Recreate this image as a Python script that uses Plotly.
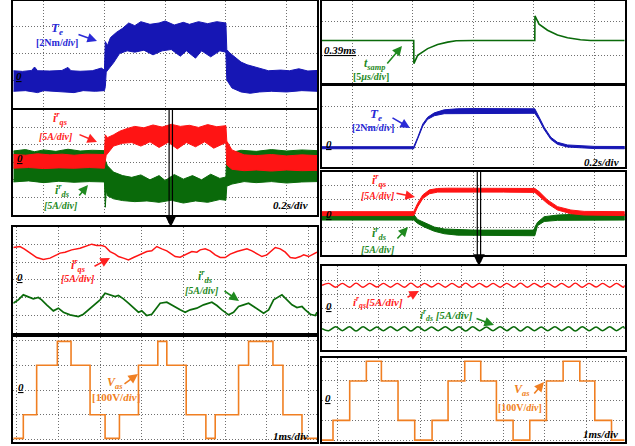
import plotly.graph_objects as go

W, H = 635, 446
FONT = "Liberation Serif"

BLUE = "#1616b4"
RED = "#ff1414"
GREEN = "#0a6a0a"
ORANGE = "#f07f22"
LBLUE = "#2a2ad6"
LRED = "#ff2222"
LGREEN = "#1f8a1f"

# ---------------- data ----------------
# L1: electromagnetic torque (Nm), 0.2 s/div, noisy envelope
te1_t_up = [0, 0.03, 0.06, 0.07, 0.08, 0.12, 0.16, 0.18, 0.19, 0.22, 0.26, 0.29, 0.30, 0.303, 0.31,
            0.32, 0.34, 0.36, 0.38, 0.40, 0.42, 0.45, 0.48, 0.50, 0.53, 0.56, 0.58, 0.61, 0.64, 0.67,
            0.70, 0.703, 0.71, 0.73, 0.75, 0.77, 0.80, 0.84, 0.88, 0.91, 0.94, 0.97, 1.0]
te1_up = [0.7, 0.65, 0.72, 0.98, 0.7, 0.68, 0.72, 0.95, 0.7, 0.66, 0.7, 0.9, 0.75, 2.9, 2.6,
          3.2, 3.6, 3.9, 4.3, 4.1, 4.4, 4.2, 4.3, 4.45, 4.15, 4.35, 4.2, 4.4, 4.25, 4.4,
          4.3, 2.3, 2.1, 1.7, 1.35, 1.15, 0.95, 0.7, 0.75, 0.7, 0.85, 0.68, 0.72]
te1_t_lo = [0, 0.04, 0.08, 0.1, 0.14, 0.2, 0.23, 0.27, 0.30, 0.303, 0.306, 0.33, 0.35, 0.375, 0.40,
            0.43, 0.46, 0.49, 0.52, 0.55, 0.57, 0.60, 0.62, 0.65, 0.68, 0.70, 0.703, 0.72, 0.75, 0.78,
            0.81, 0.85, 0.9, 0.95, 1.0]
te1_lo = [-0.85, -0.8, -0.95, -0.8, -0.85, -0.95, -0.8, -0.85, -0.8, -0.5, 0.6, 1.3, 2.0, 2.2, 2.1,
          2.25, 1.9, 2.2, 2.3, 1.8, 2.2, 1.65, 2.2, 1.75, 2.2, 2.1, 0.0, -0.6, -0.9, -1.0,
          -0.9, -0.85, -0.9, -0.8, -0.85]

# L2: rotor-frame currents (A), 0.2 s/div
iqs2_t_up = [0, 0.04, 0.08, 0.12, 0.16, 0.2, 0.24, 0.28, 0.30, 0.303, 0.31, 0.33, 0.35, 0.375, 0.40,
             0.43, 0.46, 0.49, 0.52, 0.55, 0.58, 0.61, 0.64, 0.67, 0.70, 0.703, 0.72, 0.76, 0.8, 0.85,
             0.9, 0.95, 1.0]
iqs2_up = [2.2, 2.0, 2.4, 2.1, 2.3, 2.0, 2.3, 2.1, 2.2, 7.8, 7.0, 7.8, 8.8, 9.6, 10.2,
           9.8, 10.6, 10.0, 10.8, 10.2, 10.5, 9.9, 10.7, 10.1, 10.4, 6.0, 3.5, 2.1, 1.9, 2.2,
           1.8, 2.1, 1.9]
iqs2_t_lo = [0, 0.05, 0.1, 0.15, 0.2, 0.25, 0.30, 0.303, 0.306, 0.33, 0.36, 0.39, 0.42, 0.45, 0.48,
             0.51, 0.54, 0.57, 0.60, 0.63, 0.66, 0.70, 0.703, 0.72, 0.76, 0.8, 0.85, 0.9, 0.95, 1.0]
iqs2_lo = [-1.7, -1.5, -1.8, -1.6, -1.7, -1.5, -1.7, 0.5, 2.0, 4.6, 5.4, 5.6, 4.6, 5.8, 4.2,
           5.7, 3.8, 5.6, 4.4, 5.8, 4.0, 5.6, -0.8, -2.0, -2.4, -2.2, -2.5, -2.2, -2.4, -2.3]
ids2_t_up = [0, 0.04, 0.07, 0.1, 0.14, 0.18, 0.22, 0.26, 0.3, 0.303, 0.31, 0.33, 0.36, 0.39, 0.42,
             0.45, 0.48, 0.5, 0.53, 0.56, 0.59, 0.62, 0.65, 0.68, 0.70, 0.703, 0.72, 0.75, 0.8, 0.85,
             0.9, 0.95, 1.0]
ids2_up = [3.2, 3.6, 3.0, 3.5, 3.1, 3.7, 3.2, 3.4, 3.3, 0.6, -1.0, -2.8, -3.8, -4.3, -3.6,
           -5.0, -3.8, -5.2, -3.5, -4.8, -3.8, -5.0, -3.4, -4.6, -4.2, 1.5, 2.8, 3.4, 3.1, 3.6,
           3.2, 3.5, 3.3]
ids2_t_lo = [0, 0.05, 0.1, 0.15, 0.2, 0.25, 0.3, 0.303, 0.306, 0.31, 0.33, 0.36, 0.4, 0.44, 0.48,
             0.52, 0.56, 0.6, 0.64, 0.68, 0.70, 0.703, 0.72, 0.76, 0.8, 0.85, 0.9, 0.95, 1.0]
ids2_lo = [-5.6, -5.3, -5.8, -5.4, -5.7, -5.5, -5.6, -12.8, -8.0, -9.5, -10.4, -10.9, -11.2, -11.0, -11.4,
           -10.8, -11.6, -11.0, -11.4, -10.6, -10.8, -6.8, -6.2, -5.5, -5.8, -5.5, -5.9, -5.6, -5.5]

# L3: zoomed currents (A), 1 ms/div
l3_t_q = [0, 0.16, 0.26, 0.4, 0.56, 0.72, 0.88, 1.04, 1.12, 1.24, 1.4, 1.6, 1.8, 1.88, 2.0,
          2.12, 2.2, 2.32, 2.44, 2.52, 2.64, 2.76, 2.88, 3.04, 3.2, 3.32, 3.44, 3.56, 3.68, 3.76,
          3.88, 4.0, 4.12, 4.28, 4.4, 4.48, 4.6, 4.72, 4.84, 4.96, 5.08, 5.2, 5.36, 5.48, 5.6,
          5.72, 5.84, 5.96, 6.08, 6.2, 6.28, 6.4, 6.52, 6.64, 6.76, 6.88, 6.96, 7.08, 7.2, 7.28]
l3_iqs = [9.18, 9.46, 8.81, 7.59, 6.34, 5.77, 6.17, 7.10, 7.59, 7.87, 8.52, 9.0, 9.75, 10.14, 9.75,
          9.75, 9.46, 8.04, 7.30, 6.62, 6.17, 5.68, 6.34, 7.30, 8.04, 8.24, 9.46, 8.81, 8.24, 7.59,
          6.62, 6.44, 7.10, 8.04, 7.87, 8.52, 8.81, 8.24, 7.10, 6.34, 6.34, 7.30, 8.04, 8.52, 8.81,
          8.24, 7.30, 6.62, 7.10, 8.52, 9.18, 8.81, 7.87, 6.34, 6.17, 6.62, 7.10, 6.62, 7.30, 7.87]
l3_t_d = [0, 0.12, 0.24, 0.36, 0.48, 0.6, 0.68, 0.8, 0.96, 1.08, 1.2, 1.36, 1.56, 1.68, 1.8,
          1.92, 2.08, 2.2, 2.32, 2.44, 2.52, 2.64, 2.76, 2.88, 3.0, 3.08, 3.2, 3.32, 3.44, 3.52,
          3.68, 3.76, 3.84, 4.0, 4.12, 4.24, 4.4, 4.56, 4.76, 4.88, 5.0, 5.16, 5.28, 5.4, 5.52,
          5.64, 5.76, 5.88, 6.0, 6.12, 6.24, 6.44, 6.56, 6.68, 6.8, 6.92, 7.0, 7.12, 7.24, 7.28]
l3_ids = [-6.63, -5.68, -4.26, -4.73, -5.40, -5.02, -5.68, -7.10, -8.81, -8.05, -9.19, -9.94, -10.42, -9.76, -8.52,
          -7.10, -5.68, -3.79, -4.26, -4.73, -4.45, -5.40, -6.63, -8.05, -9.19, -8.81, -10.14, -9.76, -8.05, -6.63,
          -6.35, -6.91, -7.58, -8.52, -9.19, -8.52, -8.05, -7.10, -6.35, -7.29, -8.52, -9.94, -9.19, -7.58, -7.10,
          -6.63, -7.58, -8.52, -9.47, -8.52, -5.68, -4.26, -5.68, -7.10, -7.86, -7.58, -8.52, -9.76, -10.14, -9.19]

# L4: phase voltage (V), 1 ms/div, step changes
l4_t = [0, 0.24, 0.56, 1.056, 1.384, 1.84, 2.2, 2.544, 3.0, 3.464,
        3.68, 4.144, 4.616, 4.84, 5.4, 5.64, 6.224, 6.464, 6.92, 7.28]
l4_v = [-196, -100, 100, 197, 100, -100, -196, -100, 100, 197,
        100, -100, -196, -100, 100, 197, 100, -100, -196, -196]

# R1: sampling period (us)
r1_t = [0, 0.303, 0.3035, 0.316, 0.349, 0.382, 0.415, 0.443, 0.5, 0.703, 0.7035, 0.717,
        0.745, 0.778, 0.811, 0.854, 0.887, 1.0]
r1_v = [390, 390, 386.6, 387.8, 388.8, 389.4, 389.75, 389.95, 390, 390, 393.6, 392.4,
        391.5, 390.8, 390.4, 390.1, 390, 390]

# R2: torque (Nm)
te2_t = [0, 0.303, 0.316, 0.333, 0.349, 0.371, 0.404, 0.448, 0.5, 0.6, 0.703, 0.717, 0.734,
         0.756, 0.778, 0.811, 0.854, 0.9, 1.0]
te2_up = [0.1, 0.1, 1.0, 2.32, 2.97, 3.4, 3.7, 3.8, 3.82, 3.82, 3.8, 3.0, 2.0,
          1.02, 0.53, 0.27, 0.17, 0.13, 0.12]
te2_lo = [-0.1, -0.1, 0.84, 2.12, 2.77, 3.12, 3.32, 3.36, 3.36, 3.36, 3.36, 2.74, 1.78,
          0.82, 0.33, 0.07, -0.03, -0.08, -0.1]

# R3: currents (A)
iqs3_t = [0, 0.303, 0.316, 0.333, 0.355, 0.382, 0.415, 0.5, 0.6, 0.703, 0.717, 0.745, 0.778,
          0.822, 0.866, 0.93, 1.0]
iqs3_up = [0.6, 0.6, 3.6, 6.6, 8.4, 8.9, 9.0, 9.0, 9.0, 8.9, 7.8, 4.8, 2.4, 1.2, 0.7, 0.6, 0.6]
iqs3_lo = [-0.8, -0.8, 2.3, 5.3, 7.0, 7.6, 7.6, 7.6, 7.6, 7.5, 6.4, 3.5, 1.2, -0.1, -0.6, -0.8, -0.8]
ids3_t = [0, 0.303, 0.316, 0.338, 0.371, 0.404, 0.448, 0.5, 0.6, 0.7, 0.703, 0.712, 0.734,
          0.778, 0.822, 0.9, 1.0]
ids3_up = [-0.4, -0.4, -2.2, -3.4, -4.9, -5.6, -5.9, -6.0, -6.0, -6.0, -5.0, -3.2, -1.2,
           -0.6, -0.4, -0.4, -0.4]
ids3_lo = [-2.4, -2.4, -3.6, -4.9, -6.4, -7.3, -7.8, -8.0, -8.0, -8.0, -8.0, -4.4, -2.9,
           -2.5, -2.4, -2.4, -2.4]

# R4: zoomed currents (A), 1 ms/div
r4_t = [0.0, 0.16, 0.33, 0.49, 0.66, 0.82, 0.99, 1.15, 1.32, 1.48, 1.65, 1.81, 1.98, 2.14, 2.31,
        2.47, 2.64, 2.8, 2.97, 3.13, 3.3, 3.46, 3.63, 3.79, 3.96, 4.12, 4.29, 4.45, 4.62, 4.78,
        4.95, 5.11, 5.28, 5.44, 5.61, 5.77, 5.94, 6.1, 6.27, 6.43, 6.6, 6.76, 6.93, 7.09, 7.26, 7.29]
r4_iqs = [8.1, 8.8, 7.4, 8.8, 7.4, 8.9, 7.4, 8.8, 7.5, 8.8, 7.4, 8.8, 7.4, 8.9, 7.4,
          8.8, 7.5, 8.8, 7.4, 8.8, 7.4, 8.9, 7.4, 8.8, 7.5, 8.8, 7.4, 8.8, 7.4, 8.9,
          7.4, 8.8, 7.5, 8.8, 7.4, 8.8, 7.4, 8.9, 7.4, 8.8, 7.5, 8.8, 7.4, 8.8, 7.4, 8.1]
r4_ids = [-7.4, -8.1, -6.7, -8.1, -6.7, -8.2, -6.7, -8.1, -6.8, -8.1, -6.7, -8.1, -6.7, -8.2, -6.7,
          -8.1, -6.8, -8.1, -6.7, -8.1, -6.7, -8.2, -6.7, -8.1, -6.8, -8.1, -6.7, -8.1, -6.7, -8.2,
          -6.7, -8.1, -6.8, -8.1, -6.7, -8.1, -6.7, -8.2, -6.7, -8.1, -6.8, -8.1, -6.7, -8.1, -6.7, -7.4]

# R5: phase voltage (V)
r5_t = [0, 0.265, 0.667, 1.068, 1.43, 1.831, 2.233, 2.651, 3.036, 3.438,
        3.823, 4.2, 4.602, 5.004, 5.406, 5.807, 6.209, 6.57, 6.972, 7.29]
r5_v = [-200, -100, 100, 200, 100, -100, -200, -100, 100, 200,
        100, -100, -200, -100, 100, 200, 100, -100, -200, -200]

# grid positions (axis values)
grid_s = [0.1, 0.3, 0.5, 0.7, 0.9]
grid_msL = [0.08, 1.08, 2.08, 3.08, 4.08, 5.08, 6.08, 7.08]
grid_msR = [0.37, 1.37, 2.37, 3.37, 4.37, 5.37, 6.37]

# ---------------- layout of panels (pixel boxes) ----------------
panels = {
    "L1": dict(box=(13.3, 317, 1, 108), xr=[0, 1.0], yr=[-2.11, 5.96], xt=grid_s, yt=[0, 2, 4]),
    "L2": dict(box=(13.3, 317, 109.5, 215), xr=[0, 1.0], yr=[-15, 15], xt=grid_s, yt=[-10, -5, 0, 5, 10]),
    "L3": dict(box=(13.3, 317, 226.7, 333), xr=[0, 7.28], yr=[-15.1, 15.1], xt=grid_msL, yt=[-10, -5, 0, 5, 10]),
    "L4": dict(box=(13.3, 317, 336.7, 442), xr=[0, 7.28], yr=[-210.5, 215.8], xt=grid_msL, yt=[-200, -100, 0, 100, 200]),
    "R1": dict(box=(322, 624.7, 1, 83.3), xr=[0, 1.0], yr=[383.7, 395.8], xt=grid_s, yt=[387.8, 392.8]),
    "R2": dict(box=(322, 624.7, 85.5, 166.7), xr=[0, 1.0], yr=[-1.85, 6.07], xt=grid_s, yt=[0, 2, 4, 6]),
    "R3": dict(box=(322, 624.7, 171.7, 255), xr=[0, 1.0], yr=[-14.9, 14.9], xt=grid_s, yt=[-10, -5, 0, 5, 10]),
    "R4": dict(box=(322, 624.7, 266, 350), xr=[0, 7.29], yr=[-15, 15], xt=grid_msR, yt=[-10, -5, 0, 5, 10]),
    "R5": dict(box=(322, 624.7, 358.3, 442.3), xr=[0, 7.29], yr=[-211, 215], xt=grid_msR, yt=[-200, -100, 0, 100, 200]),
}
order = ["L1", "L2", "L3", "L4", "R1", "R2", "R3", "R4", "R5"]
axid = {name: ("" if i == 0 else str(i + 1)) for i, name in enumerate(order)}

fig = go.Figure()
layout = {}
for name in order:
    p = panels[name]
    x0, x1, y0, y1 = p["box"]
    n = axid[name]
    common = dict(showline=True, mirror=True, linecolor="black", linewidth=1.7,
                  showgrid=True, gridcolor="#6f6f6f", griddash="1px,2px", gridwidth=1.1,
                  zeroline=False, ticks="", showticklabels=False, fixedrange=True)
    layout["xaxis" + n] = dict(domain=[x0 / W, x1 / W], range=p["xr"], tickvals=p["xt"],
                               anchor="y" + n, **common)
    layout["yaxis" + n] = dict(domain=[1 - y1 / H, 1 - y0 / H], range=p["yr"], tickvals=p["yt"],
                               anchor="x" + n, **common)


def band(name, t_up, up, t_lo, lo, color, lw=1):
    n = axid[name]
    fig.add_trace(go.Scatter(x=list(t_up) + list(t_lo)[::-1], y=list(up) + list(lo)[::-1],
                             fill="toself", fillcolor=color, mode="lines",
                             line=dict(color=color, width=lw), xaxis="x" + n, yaxis="y" + n,
                             hoverinfo="skip"))


def line(name, t, v, color, width=1.6, shape="linear"):
    n = axid[name]
    fig.add_trace(go.Scatter(x=t, y=v, mode="lines", line=dict(color=color, width=width, shape=shape),
                             xaxis="x" + n, yaxis="y" + n, hoverinfo="skip"))


band("L1", te1_t_up, te1_up, te1_t_lo, te1_lo, BLUE)
band("L2", ids2_t_up, ids2_up, ids2_t_lo, ids2_lo, GREEN)
band("L2", iqs2_t_up, iqs2_up, iqs2_t_lo, iqs2_lo, RED)
line("L3", l3_t_q, l3_iqs, RED, 1.5)
line("L3", l3_t_d, l3_ids, GREEN, 1.7)
line("L4", l4_t, l4_v, ORANGE, 1.6, "hv")
line("R1", r1_t, r1_v, GREEN, 1.6)
band("R2", te2_t, te2_up, te2_t, te2_lo, BLUE)
band("R3", ids3_t, ids3_up, ids3_t, ids3_lo, GREEN)
band("R3", iqs3_t, iqs3_up, iqs3_t, iqs3_lo, RED)
line("R4", r4_t, r4_iqs, RED, 1.4, "spline")
line("R4", r4_t, r4_ids, GREEN, 1.6, "spline")
line("R5", r5_t, r5_v, ORANGE, 1.6, "hv")

# ---------------- zoom markers (double vertical line + arrow) ----------------
shapes = []
annotations = []
marker_t = [0.513, 0.524]
for name, top, bottom, head in [("L2", 109.5, 223, 227), ("R3", 171.7, 262, 266)]:
    n = axid[name]
    for xm in marker_t:
        shapes.append(dict(type="line", xref="x" + n, yref="paper", x0=xm, x1=xm,
                           y0=1 - top / H, y1=1 - bottom / H, line=dict(color="black", width=1.2)))
    annotations.append(dict(text="", xref="x" + n, yref="paper", x=sum(marker_t) / 2, y=1 - head / H,
                            ax=0, ay=-9, showarrow=True, arrowhead=2, arrowsize=1.3,
                            arrowwidth=1.8, arrowcolor="black"))


def label(text, cx, cy, color, size=10):
    annotations.append(dict(text=text, x=cx / W, y=1 - cy / H, xref="paper", yref="paper",
                            showarrow=False, xanchor="center", yanchor="middle",
                            font=dict(family=FONT, size=size, color=color)))


def arrow(tx, ty, hx, hy, color):
    annotations.append(dict(text="", x=hx / W, y=1 - hy / H, xref="paper", yref="paper",
                            ax=tx - hx, ay=ty - hy, axref="pixel", ayref="pixel", showarrow=True,
                            arrowhead=2, arrowsize=1.2, arrowwidth=1.6, arrowcolor=color))


TE = "<b><i>T</i></b><sub><b><i>e</i></b></sub>"
IQS = "<b><i>i</i></b><sup><b><i>r</i></b></sup><sub><b><i>qs</i></b></sub>"
IDS = "<b><i>i</i></b><sup><b><i>r</i></b></sup><sub><b><i>ds</i></b></sub>"
VAS = "<b><i>V</i></b><sub><b><i>as</i></b></sub>"
ZERO = "<b><i><u>0</u></i></b>"
A5 = "<b><i>[5A/div]</i></b>"

# L1
label(TE, 57, 29, LBLUE, 13)
label("<b>[2Nm/<i>div</i>]</b>", 57, 42.5, LBLUE, 10)
arrow(77, 34, 97, 41, LBLUE)
label(ZERO, 19, 76, "black", 11)
# L2
label(IQS, 60, 118, LRED, 12)
label(A5, 56, 136, LRED, 10)
arrow(78, 134, 97, 142, LRED)
label(IDS, 62, 190, LGREEN, 12)
label(A5, 61, 205, LGREEN, 10)
arrow(78, 197, 88, 185, LGREEN)
label(ZERO, 19.5, 158, "black", 11)
label("<b><i>0.2s/div</i></b>", 290, 204.5, "black", 11)
# L3
label(IQS, 78, 265, LRED, 12)
label(A5, 78, 278.5, LRED, 10)
arrow(93, 267, 110, 258, LRED)
label(IDS, 205, 276, LGREEN, 12)
label(A5, 202, 290, LGREEN, 10)
arrow(223, 290, 239, 301, LGREEN)
label(ZERO, 20, 277, "black", 11)
# L4
label(VAS, 114, 383, ORANGE, 12)
label("<b>[100V/<i>div</i>]</b>", 116, 397, ORANGE, 11)
arrow(123, 385, 138, 374, ORANGE)
label(ZERO, 21, 387, "black", 11)
label("<b><i>1ms/div</i></b>", 290, 436, "black", 11)
# R1
label("<b><i><u>0.39ms</u></i></b>", 340, 50, "black", 11)
label("<b><i>t</i></b><sub><b><i>samp</i></b></sub>", 375, 64, LGREEN, 12)
label("<b>[5<i>µs/div</i>]</b>", 371, 77, LGREEN, 10)
arrow(386, 65, 402, 46, LGREEN)
# R2
label(TE, 376, 114, LBLUE, 13)
label("<b>[2Nm/<i>div</i>]</b>", 373, 127.5, LBLUE, 10)
arrow(391, 117, 410, 128, LBLUE)
label(ZERO, 329, 144, "black", 11)
label("<b><i>0.2s/div</i></b>", 601, 162, "black", 11)
# R3
label(IQS, 379, 180, LRED, 12)
label(A5, 378, 195, LRED, 10)
arrow(395, 193, 415, 197, LRED)
label(IDS, 379, 234, LGREEN, 12)
label(A5, 378, 249.5, LGREEN, 10)
arrow(396, 240, 408, 227, LGREEN)
label(ZERO, 329, 214, "black", 11)
# R4
label(IQS + "<b><i>[5A/div]</i></b>", 378, 302, LRED, 11)
arrow(406, 298, 419, 291, LRED)
label(IDS + "<b><i> [5A/div]</i></b>", 446, 315, LGREEN, 11)
arrow(475, 318, 494, 325, LGREEN)
label(ZERO, 328.5, 306, "black", 11)
# R5
label(VAS, 521, 390, ORANGE, 12)
label("<b>[100V/<i>div</i>]</b>", 520, 407.5, ORANGE, 10)
arrow(533, 395, 544, 382, ORANGE)
label(ZERO, 328, 398, "black", 11)
label("<b><i>1ms/div</i></b>", 600, 434, "black", 11)

fig.update_layout(width=W, height=H, margin=dict(l=0, r=0, t=0, b=0),
                  paper_bgcolor="white", plot_bgcolor="white", showlegend=False,
                  font=dict(family=FONT), shapes=shapes, annotations=annotations, **layout)

fig.write_html("out.html", config={"displayModeBar": False},
               post_script="document.body.style.margin='0';document.body.style.overflow='hidden';")
